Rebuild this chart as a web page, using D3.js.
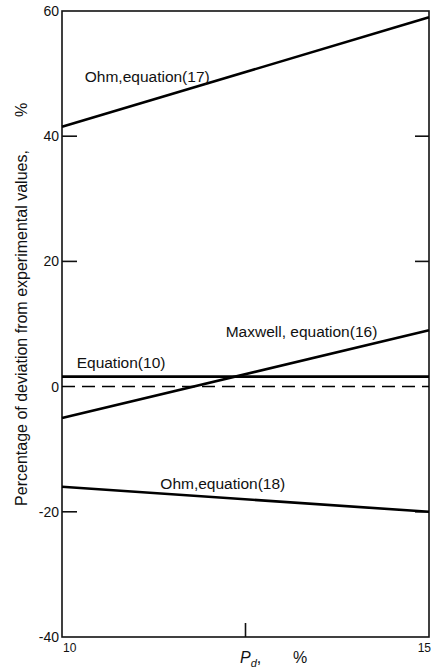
<!DOCTYPE html>
<html>
<head>
<meta charset="utf-8">
<script src="https://cdn.jsdelivr.net/npm/d3@7"></script>
<style>
  body { margin: 0; background: #fff; }
  svg { display: block; font-family: "Liberation Sans", Arial, sans-serif; }
</style>
</head>
<body>
<div id="viz"></div>
<script>
// data
var pd = [10, 15];                 // P_d, %
var ohm17 = [41.5, 59];
var maxwell16 = [-5, 9];
var eq10 = [1.6, 1.6];
var ohm18 = [-16, -20];
var zeroLine = [0, 0];

var yTicks = [-40, -20, 0, 20, 40, 60];
var xTickLabels = [10, 15];
var xInnerTicks = [12.5];
var yInnerTicks = [-20, 20, 40];

var labels = [
  { text: "Ohm,equation(17)", x: 10.31, y: 48.6 },
  { text: "Maxwell, equation(16)", x: 12.23, y: 7.9 },
  { text: "Equation(10)", x: 10.2, y: 3.0 },
  { text: "Ohm,equation(18)", x: 11.34, y: -16.4 }
];

var margin = { top: 11, right: 3, bottom: 35, left: 62 },
  width = 432 - margin.left - margin.right,
  height = 672 - margin.top - margin.bottom;

var svg = d3.select("#viz").append("svg")
  .attr("width", 432)
  .attr("height", 672);

var g = svg.append("g")
  .attr("transform", "translate(" + margin.left + "," + margin.top + ")");

var xScale = d3.scaleLinear().domain([10, 15]).range([0, width]);
var yScale = d3.scaleLinear().domain([-40, 60]).range([height, 0]);

// frame
g.append("rect")
  .attr("x", 0).attr("y", 0)
  .attr("width", width).attr("height", height)
  .style("fill", "none")
  .style("stroke", "#111")
  .style("stroke-width", 1.6);

// inner ticks on left and right
yInnerTicks.forEach(function (v) {
  g.append("line")
    .attr("x1", 0).attr("x2", 15)
    .attr("y1", yScale(v)).attr("y2", yScale(v))
    .style("stroke", "#111").style("stroke-width", 1.6);
  g.append("line")
    .attr("x1", width - 14).attr("x2", width)
    .attr("y1", yScale(v)).attr("y2", yScale(v))
    .style("stroke", "#111").style("stroke-width", 1.6);
});
xInnerTicks.forEach(function (v) {
  g.append("line")
    .attr("x1", xScale(v)).attr("x2", xScale(v))
    .attr("y1", height).attr("y2", height - 14)
    .style("stroke", "#111").style("stroke-width", 1.6);
});

// y tick labels
g.selectAll(".ylab")
  .data(yTicks)
  .enter().append("text")
  .attr("class", "ylab")
  .attr("x", -3)
  .attr("y", function (d) { return yScale(d); })
  .attr("dy", "0.35em")
  .style("text-anchor", "end")
  .style("font-size", "14px")
  .style("fill", "#111")
  .text(function (d) { return d; });

// x tick labels (last one kept inside the page edge)
g.selectAll(".xlab")
  .data(xTickLabels)
  .enter().append("text")
  .attr("class", "xlab")
  .attr("x", function (d, i) { return i === 0 ? xScale(d) + 1 : xScale(d) + 2; })
  .attr("y", height + 15)
  .style("text-anchor", function (d, i) { return i === 0 ? "start" : "end"; })
  .style("font-size", "12px")
  .style("fill", "#111")
  .text(function (d) { return d; });

// series lines
var line = d3.line()
  .x(function (d, i) { return xScale(pd[i]); })
  .y(function (d) { return yScale(d); });

[ohm17, maxwell16, eq10, ohm18].forEach(function (s) {
  g.append("path")
    .datum(s)
    .attr("d", line)
    .style("fill", "none")
    .style("stroke", "#000")
    .style("stroke-width", 2.6);
});

g.append("path")
  .datum(zeroLine)
  .attr("d", line)
  .style("fill", "none")
  .style("stroke", "#000")
  .style("stroke-width", 1.5)
  .style("stroke-dasharray", "13,7");

// curve labels
g.selectAll(".clab")
  .data(labels)
  .enter().append("text")
  .attr("class", "clab")
  .attr("x", function (d) { return xScale(d.x); })
  .attr("y", function (d) { return yScale(d.y); })
  .style("font-size", "15.5px")
  .style("fill", "#111")
  .text(function (d) { return d.text; });

// x axis title
var xt = svg.append("text")
  .attr("x", 240)
  .attr("y", 663)
  .style("font-size", "16px")
  .style("fill", "#111");
xt.append("tspan").style("font-style", "italic").text("P");
xt.append("tspan").style("font-style", "italic").style("font-size", "11px")
  .attr("dy", 4).text("d");
xt.append("tspan").attr("dy", -4).text(",");
xt.append("tspan").attr("x", 293).text("%");

// y axis title
svg.append("text")
  .attr("transform", "translate(27,328) rotate(-90)")
  .style("text-anchor", "middle")
  .style("font-size", "16px")
  .style("fill", "#111")
  .text("Percentage of deviation from experimental values,");

svg.append("text")
  .attr("transform", "translate(27,110) rotate(-90)")
  .style("text-anchor", "middle")
  .style("font-size", "16px")
  .style("fill", "#111")
  .text("%");
</script>
</body>
</html>
